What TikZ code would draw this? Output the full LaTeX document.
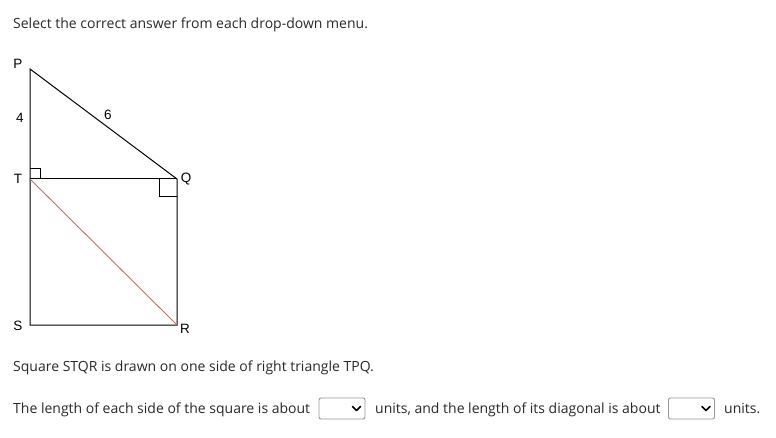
\documentclass[tikz,border=0pt]{standalone}
\usepackage{fontspec}
\setmainfont{Open Sans}
\newfontfamily\labelfont{Liberation Sans}
\usetikzlibrary{arrows}

\definecolor{diagred}{RGB}{190,112,100}
\definecolor{boxgray}{RGB}{150,150,150}
\definecolor{txtgray}{RGB}{40,40,40}

\tikzset{
  txt/.style={anchor=base west, inner sep=0pt, text=txtgray, font=\fontsize{14}{17}\selectfont},
  lab/.style={inner sep=0pt, font=\labelfont\fontsize{13.5}{16}\selectfont},
  menubox/.style={draw=boxgray, rounded corners=2pt, line width=0.9pt, minimum width=46pt, minimum height=21pt, inner sep=0pt}
}

\begin{document}
\begin{tikzpicture}[x=1pt,y=-1pt]
\useasboundingbox (0,0) rectangle (776,438);

% Domanda
\node[txt] (head) at (13,29) {Select the correct answer from each drop-down menu.};

% Vertici
\coordinate (P) at (30,69);
\coordinate (T) at (30,179);
\coordinate (Q) at (177,179);
\coordinate (S) at (30,325);
\coordinate (R) at (177,325);

% Lati
\draw[line width=1pt] (P) -- (Q) -- (R) -- (S) -- (T) -- cycle;
\draw[line width=1pt] (T) -- (Q);

% Diagonale
\draw[diagred, line width=0.9pt] (T) -- (R);

% Angoli retti
\draw[line width=1pt] (T) ++(0,-10) -- ++(10,0) -- ++(0,10);
\draw[line width=1pt] (Q) ++(0,18) -- ++(-18,0) -- ++(0,-18);

% Etichette
\node[lab] (lP) at (18,64) {P};
\node[lab] (lT) at (18,179) {T};
\node[lab] (lS) at (18,326) {S};
\node[lab] (lQ) at (186,179) {Q};
\node[lab] (lR) at (185,329) {R};
\node[lab] (l4) at (20,118) {4};
\node[lab] (l6) at (108,115) {6};

% Testo sotto
\node[txt] (line1) at (13,371) {Square STQR is drawn on one side of right triangle TPQ.};
\node[txt] (line2) at (13,413) {The length of each side of the square is about};
\node[menubox] (menu1) at (342,408.5) {};
\node[txt] (line3) at (375,413) {units, and the length of its diagonal is about};
\node[menubox] (menu2) at (691.5,408.5) {};
\node[txt] (line4) at (724,413) {units.};

% Frecce menu
\draw[line width=1.6pt, line cap=round, line join=round] (menu1.east) ++(-13,-2) -- ++(4,4) -- ++(4,-4);
\draw[line width=1.6pt, line cap=round, line join=round] (menu2.east) ++(-13,-2) -- ++(4,4) -- ++(4,-4);

\end{tikzpicture}
\end{document}
